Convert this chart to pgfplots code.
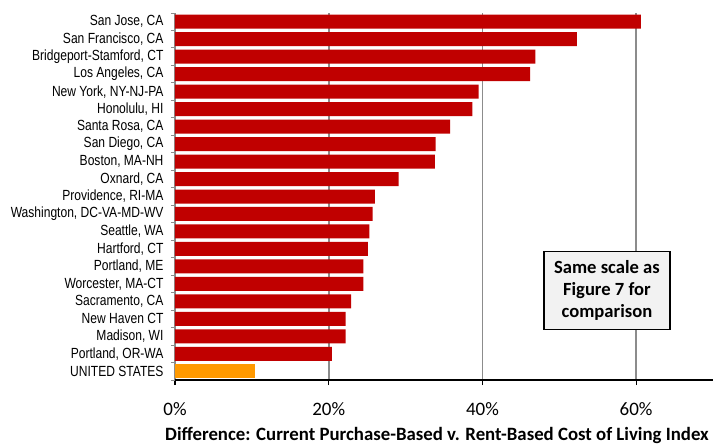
\documentclass[border=0pt]{standalone}
\usepackage{pgfplots}
\pgfplotsset{compat=1.18}
\usepackage{fontspec}
\setmainfont{Carlito}
\newfontfamily\narrowfont[FakeStretch=0.82]{Liberation Sans}
\usetikzlibrary{calc}

\definecolor{barred}{HTML}{C00000}
\definecolor{barorange}{HTML}{FF9900}
\definecolor{gridgray}{HTML}{8C8C8C}
\definecolor{boxfill}{HTML}{F2F2F2}

\begin{document}
\begin{tikzpicture}
\begin{axis}[
  scale only axis,
  width=538pt, height=367pt,
  xbar, bar width=14pt, bar shift=0pt,
  xmin=0, xmax=70,
  ymin=-0.5, ymax=20.5,
  axis lines=left,
  axis line style={-},
  x axis line style={black, line width=1.6pt},
  y axis line style={gridgray, line width=1pt},
  xtick={0,20,40,60},
  xticklabel={\pgfmathprintnumber{\tick}\%},
  /pgf/number format/assume math mode=true,
  xticklabel style={font=\fontsize{19}{22}\selectfont, yshift=-14pt},
  xmajorgrids,
  grid style={gridgray, line width=1.6pt},
  tick align=outside,
  major tick length=5pt,
  minor tick length=4pt,
  every major x tick/.style={black, line width=1.2pt},
  ytick={0,...,20},
  minor ytick={-0.5,0.5,...,20.5},
  every major y tick/.style={draw=none},
  every minor y tick/.style={gridgray, line width=1pt},
  yticklabel style={font=\narrowfont\fontsize{14.7}{16}\selectfont, xshift=-3pt},
  yticklabels={
    {UNITED STATES},
    {Portland, OR-WA},
    {Madison, WI},
    {New Haven CT},
    {Sacramento, CA},
    {Worcester, MA-CT},
    {Portland, ME},
    {Hartford, CT},
    {Seattle, WA},
    {Washington, DC-VA-MD-WV},
    {Providence, RI-MA},
    {Oxnard, CA},
    {Boston, MA-NH},
    {San Diego, CA},
    {Santa Rosa, CA},
    {Honolulu, HI},
    {New York, NY-NJ-PA},
    {Los Angeles, CA},
    {Bridgeport-Stamford, CT},
    {San Francisco, CA},
    {San Jose, CA}},
  xlabel={Difference: Current Purchase-Based v. Rent-Based Cost of Living Index},
  xlabel style={font=\bfseries\fontsize{18.8}{20}\selectfont, yshift=-5pt, xshift=-7pt},
]
% metropolitan areas
\addplot[fill=barred, draw=none] coordinates {
  (60.6,20) (52.3,19) (46.9,18) (46.2,17) (39.5,16)
  (38.7,15) (35.8,14) (33.9,13) (33.8,12) (29.1,11)
  (26.0,10) (25.7,9) (25.3,8) (25.1,7) (24.5,6)
  (24.5,5) (22.9,4) (22.2,3) (22.2,2) (20.4,1)
};
% national figure
\addplot[fill=barorange, draw=none] coordinates {(10.4,0)};

\node[draw=black, line width=1.3pt, fill=boxfill, align=center,
      font=\bfseries\fontsize{18.6}{22}\selectfont,
      minimum width=126pt, minimum height=78pt, inner sep=2pt]
  at (axis cs:56.2,4.63) {Same scale as\\Figure 7 for\\comparison};

\coordinate (bl) at (rel axis cs:0,0);
\coordinate (tr) at (rel axis cs:1,1);
\end{axis}
\pgfresetboundingbox
\path ($(bl)+(-175pt,-67pt)$) rectangle ($(tr)+(3pt,13pt)$);
\end{tikzpicture}
\end{document}
